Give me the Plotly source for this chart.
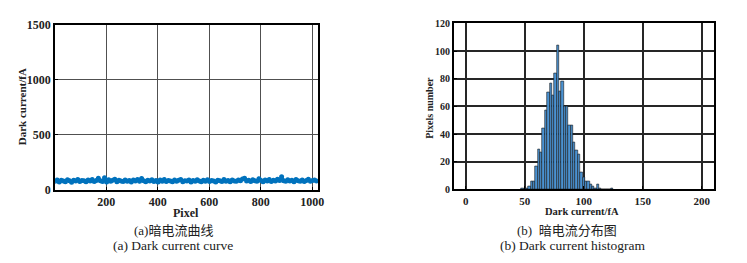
import plotly.graph_objects as go

pixel_idx = list(range(1, 1025, 8))
dark_current = [
    78, 88, 70, 86, 80, 73, 90, 82, 69, 86, 79, 92, 74, 84, 81, 72,
    88, 80, 93, 75, 85, 104, 82, 74, 108, 70, 90, 77, 87, 95, 72, 86,
    80, 74, 89, 78, 84, 71, 88, 79, 92, 76, 103, 81, 73, 87, 79, 90,
    75, 84, 70, 88, 78, 93, 74, 85, 80, 72, 89, 77, 86, 94, 73, 82,
    79, 88, 71, 84, 76, 91, 80, 72, 86, 78, 90, 74, 83, 79, 70, 87,
    81, 75, 92, 78, 85, 73, 89, 80, 76, 88, 82, 97, 104, 79, 86, 74,
    90, 81, 77, 101, 84, 72, 88, 79, 93, 75, 86, 80, 95, 84, 118, 82,
    76, 90, 79, 87, 73, 92, 81, 77, 88, 74, 85, 96, 78, 83, 89, 80,
]
curve_x_ticks = [200, 400, 600, 800, 1000]
curve_y_ticks = [0, 500, 1000, 1500]

# ---- Data: (b) dark current histogram (bin centers in fA, pixel counts)
bin_centers = [48, 50, 52, 54, 56, 58, 60, 62, 64, 66, 68, 70, 72, 74, 76, 78,
               80, 82, 84, 86, 88, 90, 92, 94, 96, 98, 100, 102, 104, 106, 108,
               110, 112, 114, 116, 118, 120, 122, 124]
pixel_counts = [1, 0, 1, 2, 6, 6, 17, 29, 27, 44, 57, 70, 77, 68, 84, 104,
                71, 78, 60, 60, 46, 46, 34, 28, 25, 12, 9, 6, 6, 4, 2,
                1, 4, 1, 0, 0, 0, 0, 1]
hist_x_ticks = [0, 50, 100, 150, 200]
hist_y_ticks = [0, 20, 40, 60, 80, 100, 120]

SERIF = "Liberation Serif, 'Noto Sans CJK SC', serif"

fig = go.Figure()

fig.add_trace(go.Scatter(
    x=pixel_idx, y=dark_current, mode="lines+markers",
    line=dict(color="#0072BD", width=3),
    marker=dict(color="#0072BD", size=5),
    xaxis="x", yaxis="y", showlegend=False,
))

fig.add_trace(go.Bar(
    x=bin_centers, y=pixel_counts, width=2,
    marker=dict(color="#4a92d2", line=dict(color="#1a1a1a", width=0.6)),
    xaxis="x2", yaxis="y2", showlegend=False,
))

axis_common = dict(showline=True, linecolor="black", linewidth=2, mirror=True,
                   zeroline=False, ticks="inside", ticklen=3, tickcolor="black")

fig.update_layout(
    width=747, height=263,
    margin=dict(l=0, r=0, t=0, b=0),
    paper_bgcolor="white", plot_bgcolor="white",
    bargap=0,
    xaxis=dict(domain=[0.0744, 0.4297], range=[1, 1024], tickvals=curve_x_ticks,
               showgrid=True, gridcolor="#505050", gridwidth=1.3,
               tickfont=dict(family=SERIF, size=12, color="#222", weight="bold"),
               anchor="y", **axis_common),
    yaxis=dict(domain=[0.2662, 0.9278], range=[0, 1500], tickvals=curve_y_ticks,
               showgrid=True, gridcolor="#505050", gridwidth=1.3,
               tickfont=dict(family=SERIF, size=12, color="#222", weight="bold"),
               anchor="x", **axis_common),
    xaxis2=dict(domain=[0.6127, 0.9629], range=[-10, 210], tickvals=hist_x_ticks,
                showgrid=True, gridcolor="#262626", gridwidth=2.2,
                tickfont=dict(family=SERIF, size=11, color="#222", weight="bold"),
                anchor="y2", **axis_common),
    yaxis2=dict(domain=[0.2673, 0.9342], range=[0, 120], tickvals=hist_y_ticks,
                showgrid=True, gridcolor="#262626", gridwidth=2.2,
                tickfont=dict(family=SERIF, size=10, color="#222", weight="bold"),
                anchor="x2", **axis_common),
)

def ann(text, x, y, size, bold=False, angle=0):
    fig.add_annotation(
        text=f"<b>{text}</b>" if bold else text,
        x=x / 747, y=1 - y / 263, xref="paper", yref="paper",
        showarrow=False, textangle=angle,
        font=dict(family=SERIF, size=size, color="#222"),
        xanchor="center", yanchor="middle",
    )

ann("Pixel", 188, 218, 12, bold=True)
ann("Dark current/fA", 23, 105, 11, bold=True, angle=-90)
ann("(a)暗电流曲线", 175, 236, 13)
ann("(a) Dark current curve", 174, 252, 13.5)

ann("Dark current/fA", 587, 216, 10.5, bold=True)
ann("Pixels number", 433, 107, 10, bold=True, angle=-90)
ann("(b)  暗电流分布图", 572, 236, 13)
ann("(b) Dark current histogram", 578, 252, 13.5)

fig.write_html("out.html")
